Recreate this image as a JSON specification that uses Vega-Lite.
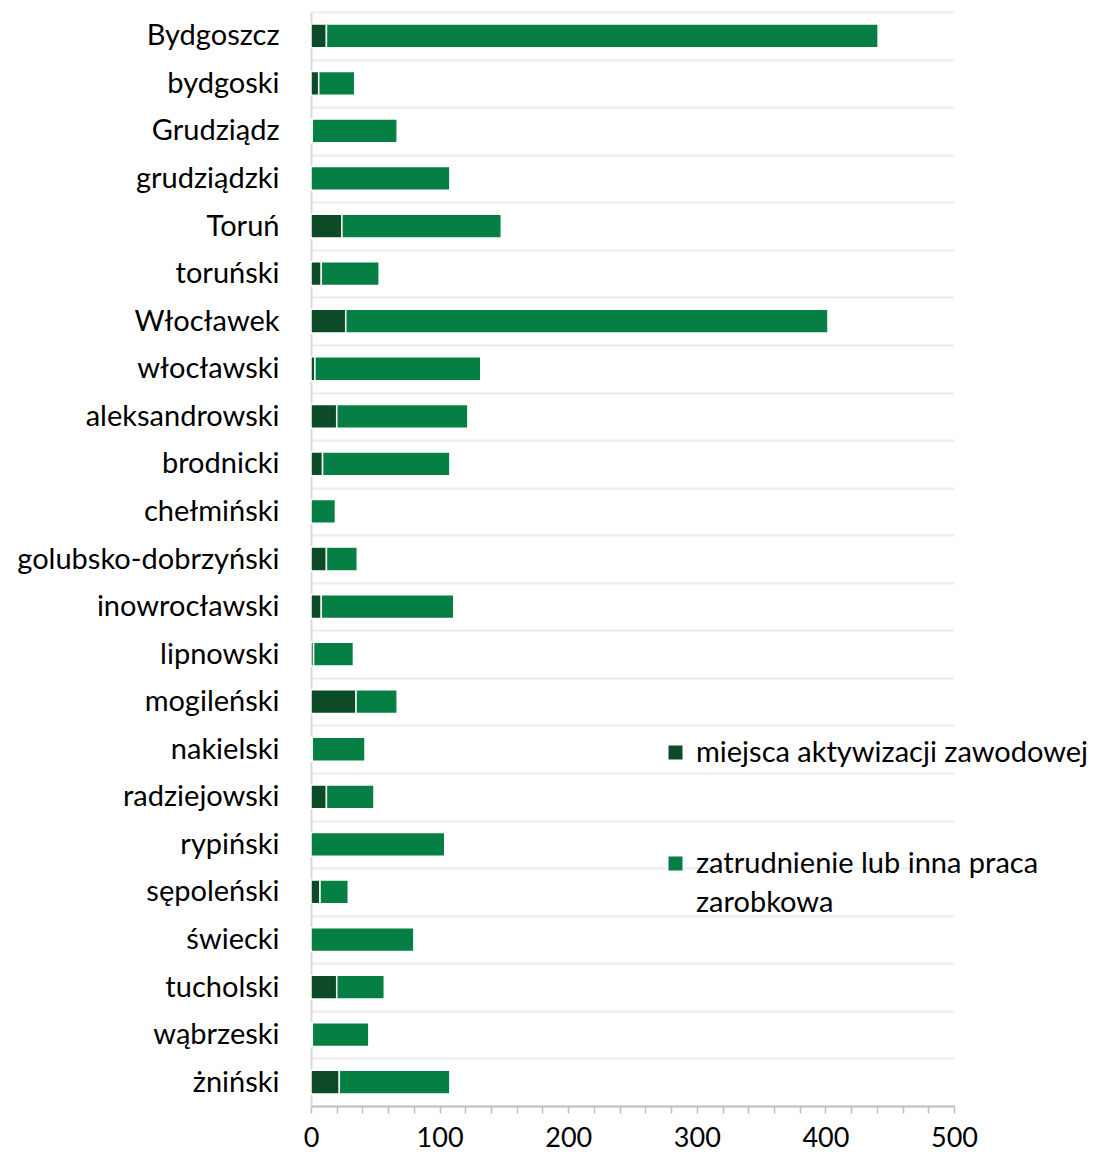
{
  "$schema": "https://vega.github.io/schema/vega-lite/v6.json",
  "autosize": {"type": "none"},
  "width": 643,
  "height": 1094,
  "padding": {"left": 311, "top": 12, "right": 144, "bottom": 48},
  "background": "white",
  "config": {"view": {"stroke": null}, "font": "Lato", "style": {"guide-label": {"lineHeight": 39}}},
  "data": {"values": [
    {"powiat": "Bydgoszcz", "kategoria": "miejsca aktywizacji zawodowej", "liczba": 12},
    {"powiat": "Bydgoszcz", "kategoria": "zatrudnienie lub inna praca zarobkowa", "liczba": 429},
    {"powiat": "bydgoski", "kategoria": "miejsca aktywizacji zawodowej", "liczba": 6},
    {"powiat": "bydgoski", "kategoria": "zatrudnienie lub inna praca zarobkowa", "liczba": 28},
    {"powiat": "Grudziądz", "kategoria": "miejsca aktywizacji zawodowej", "liczba": 1},
    {"powiat": "Grudziądz", "kategoria": "zatrudnienie lub inna praca zarobkowa", "liczba": 66},
    {"powiat": "grudziądzki", "kategoria": "miejsca aktywizacji zawodowej", "liczba": 0},
    {"powiat": "grudziądzki", "kategoria": "zatrudnienie lub inna praca zarobkowa", "liczba": 108},
    {"powiat": "Toruń", "kategoria": "miejsca aktywizacji zawodowej", "liczba": 24},
    {"powiat": "Toruń", "kategoria": "zatrudnienie lub inna praca zarobkowa", "liczba": 124},
    {"powiat": "toruński", "kategoria": "miejsca aktywizacji zawodowej", "liczba": 8},
    {"powiat": "toruński", "kategoria": "zatrudnienie lub inna praca zarobkowa", "liczba": 45},
    {"powiat": "Włocławek", "kategoria": "miejsca aktywizacji zawodowej", "liczba": 27},
    {"powiat": "Włocławek", "kategoria": "zatrudnienie lub inna praca zarobkowa", "liczba": 375},
    {"powiat": "włocławski", "kategoria": "miejsca aktywizacji zawodowej", "liczba": 3},
    {"powiat": "włocławski", "kategoria": "zatrudnienie lub inna praca zarobkowa", "liczba": 129},
    {"powiat": "aleksandrowski", "kategoria": "miejsca aktywizacji zawodowej", "liczba": 20},
    {"powiat": "aleksandrowski", "kategoria": "zatrudnienie lub inna praca zarobkowa", "liczba": 102},
    {"powiat": "brodnicki", "kategoria": "miejsca aktywizacji zawodowej", "liczba": 9},
    {"powiat": "brodnicki", "kategoria": "zatrudnienie lub inna praca zarobkowa", "liczba": 99},
    {"powiat": "chełmiński", "kategoria": "miejsca aktywizacji zawodowej", "liczba": 0},
    {"powiat": "chełmiński", "kategoria": "zatrudnienie lub inna praca zarobkowa", "liczba": 19},
    {"powiat": "golubsko-dobrzyński", "kategoria": "miejsca aktywizacji zawodowej", "liczba": 12},
    {"powiat": "golubsko-dobrzyński", "kategoria": "zatrudnienie lub inna praca zarobkowa", "liczba": 24},
    {"powiat": "inowrocławski", "kategoria": "miejsca aktywizacji zawodowej", "liczba": 8},
    {"powiat": "inowrocławski", "kategoria": "zatrudnienie lub inna praca zarobkowa", "liczba": 103},
    {"powiat": "lipnowski", "kategoria": "miejsca aktywizacji zawodowej", "liczba": 2},
    {"powiat": "lipnowski", "kategoria": "zatrudnienie lub inna praca zarobkowa", "liczba": 31},
    {"powiat": "mogileński", "kategoria": "miejsca aktywizacji zawodowej", "liczba": 35},
    {"powiat": "mogileński", "kategoria": "zatrudnienie lub inna praca zarobkowa", "liczba": 32},
    {"powiat": "nakielski", "kategoria": "miejsca aktywizacji zawodowej", "liczba": 1},
    {"powiat": "nakielski", "kategoria": "zatrudnienie lub inna praca zarobkowa", "liczba": 41},
    {"powiat": "radziejowski", "kategoria": "miejsca aktywizacji zawodowej", "liczba": 12},
    {"powiat": "radziejowski", "kategoria": "zatrudnienie lub inna praca zarobkowa", "liczba": 37},
    {"powiat": "rypiński", "kategoria": "miejsca aktywizacji zawodowej", "liczba": 0},
    {"powiat": "rypiński", "kategoria": "zatrudnienie lub inna praca zarobkowa", "liczba": 104},
    {"powiat": "sępoleński", "kategoria": "miejsca aktywizacji zawodowej", "liczba": 7},
    {"powiat": "sępoleński", "kategoria": "zatrudnienie lub inna praca zarobkowa", "liczba": 22},
    {"powiat": "świecki", "kategoria": "miejsca aktywizacji zawodowej", "liczba": 0},
    {"powiat": "świecki", "kategoria": "zatrudnienie lub inna praca zarobkowa", "liczba": 80},
    {"powiat": "tucholski", "kategoria": "miejsca aktywizacji zawodowej", "liczba": 20},
    {"powiat": "tucholski", "kategoria": "zatrudnienie lub inna praca zarobkowa", "liczba": 37},
    {"powiat": "wąbrzeski", "kategoria": "miejsca aktywizacji zawodowej", "liczba": 1},
    {"powiat": "wąbrzeski", "kategoria": "zatrudnienie lub inna praca zarobkowa", "liczba": 44},
    {"powiat": "żniński", "kategoria": "miejsca aktywizacji zawodowej", "liczba": 22},
    {"powiat": "żniński", "kategoria": "zatrudnienie lub inna praca zarobkowa", "liczba": 86}
  ]},
  "mark": {"type": "bar", "height": {"band": 0.5}, "stroke": "white", "strokeWidth": 1.5},
  "encoding": {
    "y": {
      "field": "powiat", "type": "nominal", "sort": null,
      "scale": {"paddingInner": 0, "paddingOuter": 0},
      "axis": {
        "title": null, "ticks": false, "tickBand": "extent", "grid": true,
        "gridColor": "#ececec", "gridWidth": 2,
        "domainColor": "#d9d9d9", "domainWidth": 2,
        "labelFontSize": 29, "labelColor": "#000000", "labelPadding": 32,
        "labelFont": "Lato", "labelLimit": 400
      }
    },
    "x": {
      "field": "liczba", "type": "quantitative", "stack": "zero",
      "scale": {"domain": [0, 500], "nice": false},
      "axis": {
        "title": null, "grid": false,
        "values": [0,20,40,60,80,100,120,140,160,180,200,220,240,260,280,300,320,340,360,380,400,420,440,460,480,500],
        "labelExpr": "datum.value % 100 === 0 ? datum.label : ''",
        "domainColor": "#bfbfbf", "domainWidth": 2,
        "tickColor": "#bfbfbf", "tickWidth": 1.5, "tickSize": 7,
        "labelFontSize": 27, "labelColor": "#000000", "labelPadding": 12,
        "labelFont": "Lato", "labelOverlap": false, "labelFlush": false
      }
    },
    "color": {
      "field": "kategoria", "type": "nominal",
      "scale": {"domain": ["miejsca aktywizacji zawodowej", "zatrudnienie lub inna praca zarobkowa"], "range": ["#0c4a28", "#057f44"]},
      "legend": {
        "title": null, "orient": "none", "legendX": 350, "legendY": 726,
        "symbolType": "square", "symbolSize": 196, "symbolStrokeWidth": 0,
        "labelFontSize": 29, "labelColor": "#000000", "labelFont": "Lato",
        "labelOffset": 6, "labelLimit": 500, "rowPadding": 81,
        "labelExpr": "datum.label === 'zatrudnienie lub inna praca zarobkowa' ? ['zatrudnienie lub inna praca', 'zarobkowa'] : datum.label"
      }
    },
    "order": {"field": "kategoria", "sort": "ascending"}
  }
}
